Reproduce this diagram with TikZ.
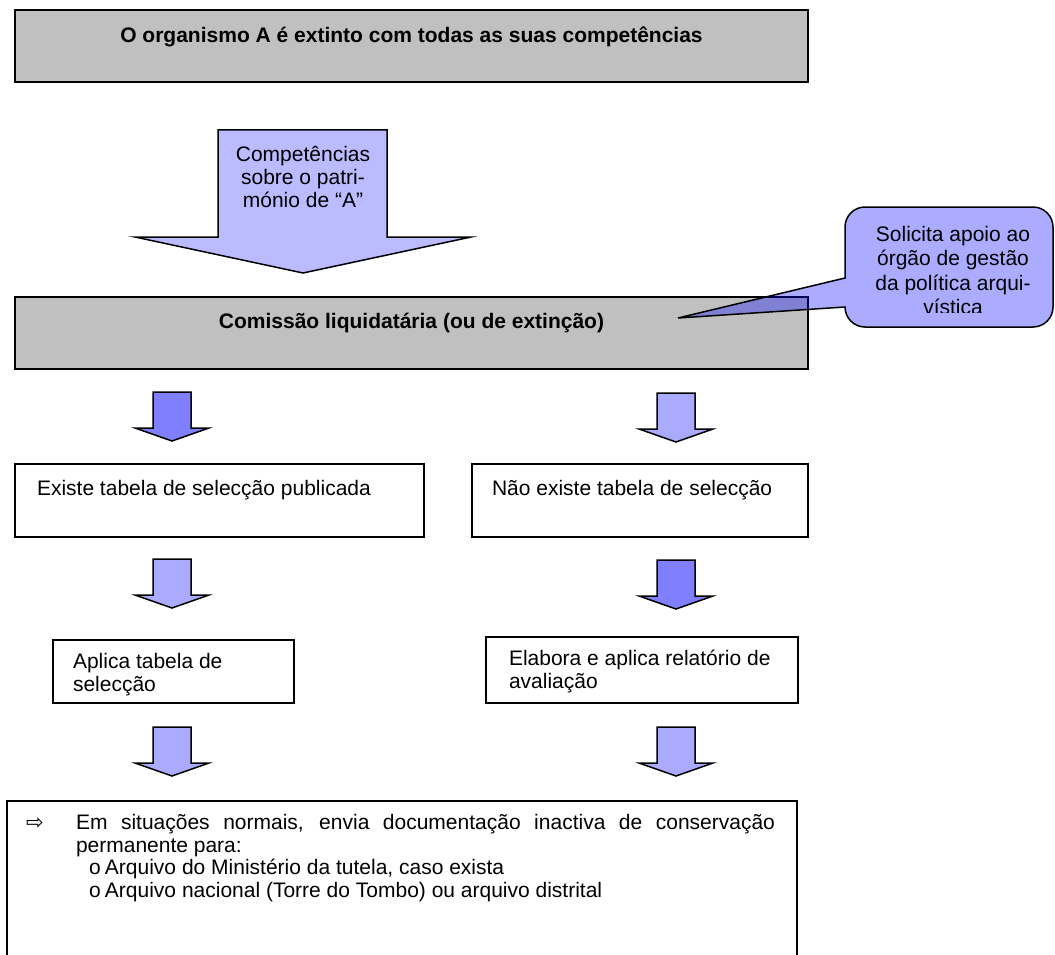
\documentclass[tikz,border=0pt]{standalone}
\usepackage{fontspec}
\setmainfont{Liberation Sans}
\newfontfamily\symfont{DejaVu Sans}
\setlength{\parindent}{0pt}
\definecolor{boxgray}{HTML}{C0C0C0}
\definecolor{lightarrow}{HTML}{AAAAFF}
\definecolor{darkarrow}{HTML}{8080FF}
\definecolor{bigarrow}{HTML}{BBBBFF}
\tikzset{
  every node/.style={inner sep=0pt, outer sep=0pt},
  boxline/.style={draw=black, line width=1.8pt},
  graybox/.style={boxline, fill=boxgray, anchor=north west},
  whitebox/.style={boxline, fill=white, anchor=north west},
  txt/.style={font=\fontsize{21}{24}\selectfont},
  boldtxt/.style={font=\fontsize{21}{24}\selectfont\bfseries},
  arrline/.style={draw=black, line width=1.5pt, line join=miter},
  calloutline/.style={draw=black, line width=1.5pt, fill=blue, fill opacity=0.33},
  pics/blockarr/.style={code={
    \draw[arrline, fill=#1] (-19,0) -- (19,0) -- (19,36) -- (37,36) -- (0,49) -- (-37,36) -- (-19,36) -- cycle;
  }}
}
\begin{document}
\begin{tikzpicture}[x=1pt, y=-1pt]
\fill[white] (0,0) rectangle (1055,955);
\useasboundingbox (0,0) rectangle (1055,955);

% top box
\node[graybox, minimum width=793pt, minimum height=72pt] (topbox) at (15,10) {};
\node[boldtxt, anchor=base] (toptxt) at (411.5,43) {O organismo A é extinto com todas as suas competências};

% big arrow
\draw[arrline, fill=bigarrow] (218,130) -- (387,130) -- (387,237) -- (471,237) -- (303,273) -- (135,237) -- (218,237) -- cycle;
\node[font=\fontsize{21}{23}\selectfont, align=center, anchor=north] (bigtxt) at (303,146.5) {Competências\\sobre o patri-\\mónio de “A”};

% commission box
\node[graybox, minimum width=793pt, minimum height=72pt] (combox) at (15,297) {};
\node[boldtxt, anchor=base] (comtxt) at (411.5,328) {Comissão liquidatária (ou de extinção)};

% callout
\draw[calloutline] (845,278) -- (845,227) .. controls (845,216) and (854,207) .. (865,207) -- (1033,207) .. controls (1044,207) and (1053,216) .. (1053,227) -- (1053,307) .. controls (1053,318) and (1044,327) .. (1033,327) -- (865,327) .. controls (854,327) and (845,318) .. (845,307) -- (678,318) -- cycle;
\begin{scope}
\clip (845,207) rectangle (1053,312);
\node[font=\fontsize{21}{24.5}\selectfont, align=center, anchor=north] (calltxt) at (953,226) {Solicita apoio ao\\órgão de gestão\\da política arqui-\\vística};
\end{scope}

% first row arrows
\pic at (172,392) {blockarr=darkarrow};
\pic at (676,393) {blockarr=lightarrow};

% first row boxes
\node[whitebox, minimum width=409pt, minimum height=73pt] (leftbox) at (15,464) {};
\node[txt, anchor=base west] (lefttxt) at (37,495) {Existe tabela de selecção publicada};
\node[whitebox, minimum width=336pt, minimum height=73pt] (rightbox) at (472,464) {};
\node[txt, anchor=base west] (righttxt) at (492,495) {Não existe tabela de selecção};

% second row arrows
\pic at (172,559) {blockarr=lightarrow};
\pic at (676,560) {blockarr=darkarrow};

% second row boxes
\node[whitebox, minimum width=241pt, minimum height=63pt] (aplbox) at (53,640) {};
\node[font=\fontsize{21}{23}\selectfont, align=left, anchor=north west] (apltxt) at (73,653) {Aplica tabela de\\selecção};
\node[whitebox, minimum width=312pt, minimum height=66pt] (elabox) at (486,637) {};
\node[font=\fontsize{21}{23}\selectfont, align=left, anchor=north west] (elatxt) at (509,650) {Elabora e aplica relatório de\\avaliação};

% third row arrows
\pic at (172,727) {blockarr=lightarrow};
\pic at (676,727) {blockarr=lightarrow};

% bottom box
\node[whitebox, minimum width=790pt, minimum height=160pt] (botbox) at (7,801) {};
\node[font=\symfont\fontsize{21}{21}\selectfont, anchor=base west] (botarrow) at (26,829) {⇨};
\node[font=\fontsize{21}{22.5}\selectfont, text width=699pt, align=justify, anchor=north west] (bottxt) at (76,814.5) {Em situações normais, envia documentação inactiva de conservação\linebreak permanente para:\par
\hspace*{13pt}\makebox[16pt][l]{o}Arquivo do Ministério da tutela, caso exista\par
\hspace*{13pt}\makebox[16pt][l]{o}Arquivo nacional (Torre do Tombo) ou arquivo distrital};
\end{tikzpicture}
\end{document}
